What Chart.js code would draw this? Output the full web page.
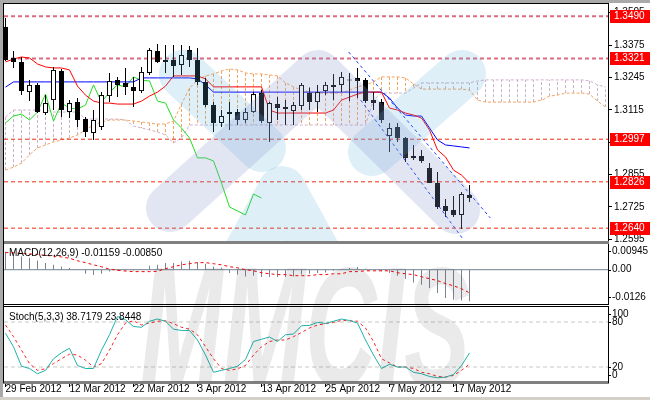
<!DOCTYPE html>
<html><head><meta charset="utf-8">
<script src="https://cdn.jsdelivr.net/npm/chart.js@4.4.1/dist/chart.umd.min.js"></script>
<style>
html,body{margin:0;padding:0;background:#fff;}
#wrap{position:relative;width:650px;height:400px;overflow:hidden;background:#fff;}
#wrap canvas{position:absolute;left:0;z-index:1;}
#wm{z-index:2 !important;pointer-events:none;}
.fr{position:absolute;z-index:3;}
</style></head><body>
<div id="wrap">
<canvas id="cMain" width="650" height="245" style="top:0"></canvas>
<canvas id="cMacd" width="650" height="60" style="top:244px"></canvas>
<canvas id="cStoch" width="650" height="93" style="top:307px"></canvas>
<canvas id="wm" width="650" height="400" style="top:0"></canvas>
<div class="fr" style="left:0;top:0;width:650px;height:3px;background:#a9a9a9"></div>
<div class="fr" style="left:0;top:0;width:3px;height:400px;background:#a9a9a9"></div>
<div class="fr" style="left:3px;top:3px;width:606px;height:1px;background:#000"></div>
<div class="fr" style="left:3px;top:3px;width:1px;height:380px;background:#000"></div>
<div class="fr" style="left:4px;top:241px;width:605px;height:3px;background:#808080"></div>
<div class="fr" style="left:4px;top:304px;width:605px;height:1px;background:#000"></div>
<div class="fr" style="left:4px;top:306px;width:605px;height:1px;background:#000"></div>
<div class="fr" style="left:0;top:397px;width:650px;height:3px;background:#d4d0c8"></div>
</div>
<script>
// ---------- DATA ----------
const opens = [1.3447,1.3323,1.3307,1.3186,1.3215,1.3102,1.3154,1.3271,1.3106,1.3146,
1.3078,1.3022,1.3046,1.3170,1.3235,1.3223,1.3207,1.3190,1.3263,1.3351,
1.3315,1.3315,1.3295,1.3355,1.3315,1.3227,1.3134,1.3062,1.3106,1.3106,
1.3074,1.3106,1.3182,1.3062,1.3138,1.3126,1.3110,1.3130,1.3182,1.3146,
1.3190,1.3215,1.3215,1.3235,1.3243,1.3235,1.3154,1.3146,1.3010,1.3046,
1.3002,1.2930,1.2930,1.2881,1.2821,1.2729,1.2713,1.2693,1.2773];
const highs = [1.3483,1.3351,1.3327,1.3235,1.3223,1.3174,1.3287,1.3279,1.3154,1.3162,
1.3086,1.3114,1.3186,1.3263,1.3247,1.3283,1.3247,1.3287,1.3363,1.3379,
1.3375,1.3375,1.3375,1.3371,1.3363,1.3243,1.3146,1.3114,1.3146,1.3118,
1.3122,1.3186,1.3194,1.3146,1.3166,1.3154,1.3146,1.3223,1.3205,1.3215,
1.3227,1.3259,1.3267,1.3263,1.3283,1.3243,1.3186,1.3158,1.3062,1.3062,
1.3006,1.2974,1.2954,1.2902,1.2865,1.2757,1.2769,1.2785,1.2813];
const lows = [1.3311,1.3283,1.3174,1.3150,1.3102,1.3094,1.3114,1.3086,1.3082,1.3046,
1.3006,1.2994,1.3034,1.3146,1.3166,1.3174,1.3126,1.3182,1.3255,1.3303,
1.3263,1.3247,1.3255,1.3287,1.3215,1.3126,1.3026,1.3046,1.3034,1.3054,
1.3062,1.3102,1.3062,1.2986,1.3074,1.3054,1.3054,1.3114,1.3114,1.3106,
1.3174,1.3154,1.3186,1.3150,1.3162,1.3142,1.3114,1.3062,1.2946,1.2986,
1.2906,1.2914,1.2902,1.2821,1.2717,1.2685,1.2685,1.2637,1.2745];
const closes = [1.3315,1.3307,1.3190,1.3215,1.3106,1.3142,1.3275,1.3114,1.3142,1.3074,
1.3026,1.3074,1.3174,1.3231,1.3215,1.3207,1.3190,1.3267,1.3355,1.3307,
1.3307,1.3291,1.3335,1.3315,1.3227,1.3134,1.3062,1.3090,1.3098,1.3074,
1.3106,1.3178,1.3070,1.3142,1.3122,1.3118,1.3134,1.3215,1.3146,1.3186,
1.3215,1.3207,1.3247,1.3233,1.3231,1.3150,1.3142,1.3074,1.3042,1.3002,
1.2922,1.2922,1.2910,1.2821,1.2725,1.2709,1.2693,1.2777,1.2761];
const tenkan = [1.3307,1.3319,1.3327,1.3323,1.3299,1.3287,1.3283,1.3283,1.3275,1.3210,
1.3174,1.3150,1.3142,1.3142,1.3138,1.3138,1.3138,1.3150,1.3170,1.3186,
1.3210,1.3251,1.3251,1.3251,1.3251,1.3239,1.3207,1.3207,1.3207,1.3207,
1.3207,1.3207,1.3207,1.3114,1.3102,1.3102,1.3102,1.3102,1.3102,1.3102,
1.3102,1.3114,1.3154,1.3166,1.3178,1.3186,1.3186,1.3186,1.3122,1.3114,
1.3102,1.3094,1.3082,1.3034,1.2954,1.2926,1.2873,1.2853,1.2821];
const kijun = [1.3206,1.3227,1.3227,1.3227,1.3227,1.3227,1.3227,1.3227,1.3227,1.3227,
1.3227,1.3227,1.3227,1.3227,1.3227,1.3227,1.3227,1.3243,1.3243,1.3243,
1.3243,1.3243,1.3243,1.3243,1.3239,1.3215,1.3186,1.3186,1.3186,1.3186,
1.3186,1.3186,1.3186,1.3186,1.3186,1.3186,1.3186,1.3186,1.3186,1.3186,
1.3186,1.3186,1.3186,1.3186,1.3186,1.3186,1.3186,1.3186,1.3162,1.3122,
1.3094,1.3090,1.3090,1.3042,1.2994,1.2974,1.2970,1.2966,1.2962];
const spanA = [1.2873,1.2885,1.2901,1.2934,1.2962,1.2974,1.2986,1.2994,1.3002,1.3014,
1.3034,1.3054,1.3066,1.3074,1.3074,1.3074,1.3070,1.3066,1.3062,1.3058,
1.3058,1.3070,1.3138,1.3202,1.3235,1.3251,1.3259,1.3271,1.3279,1.3275,
1.3263,1.3259,1.3259,1.3255,1.3251,1.3223,1.3207,1.3194,1.3186,1.3182,
1.3182,1.3182,1.3182,1.3194,1.3207,1.3215,1.3227,1.3247,1.3247,1.3247,
1.3243,1.3219,1.3198,1.3198,1.3198,1.3198,1.3198,1.3198,1.3194,1.3154,
1.3146,1.3146,1.3146,1.3146,1.3146,1.3146,1.3146,1.3154,1.3170,1.3174,
1.3182,1.3182,1.3182,1.3178,1.3150,1.3126];
const spanB = [1.3086,1.3114,1.3114,1.3114,1.3114,1.3114,1.3106,1.3106,1.3106,1.3106,
1.3078,1.3078,1.3078,1.3078,1.3078,1.3074,1.3050,1.3042,1.3034,1.3026,
1.3014,1.2982,1.3002,1.3054,1.3054,1.3054,1.3054,1.3054,1.3054,1.3054,
1.3054,1.3054,1.3054,1.3054,1.3054,1.3054,1.3054,1.3054,1.3054,1.3054,
1.3054,1.3054,1.3054,1.3054,1.3054,1.3054,1.3154,1.3182,1.3182,1.3182,
1.3182,1.3202,1.3223,1.3223,1.3223,1.3223,1.3223,1.3223,1.3223,1.3231,
1.3235,1.3235,1.3235,1.3235,1.3235,1.3235,1.3235,1.3235,1.3235,1.3235,
1.3235,1.3235,1.3235,1.3231,1.3215,1.3207];
const chinkouShift = 26;
const levels = [1.3490,1.3321,1.2997,1.2826,1.2640];
const priceTicks = [1.2595,1.2725,1.2855,1.2985,1.3115,1.3245,1.3375,1.3505];
const trendUpper = [[42.9,1.3347],[60.6,1.2681]];
const trendLower = [[44.4,1.3154],[57.1,1.2600]];
const macdHist = [0.0066,0.0055,0.0049,0.0043,0.0034,0.0025,0.0018,0.0012,0.0006,0.0002,
-0.0015,-0.0019,-0.0015,-0.0007,-0.0004,-0.0004,-0.0003,0.0001,0.0015,0.0018,
0.0025,0.0025,0.0030,0.0033,0.0027,0.0022,0.0012,0.0007,-0.0012,-0.0018,
-0.0025,-0.0022,-0.0027,-0.0027,-0.0027,-0.0027,-0.0025,-0.0018,-0.0015,-0.0012,
-0.0010,-0.0004,0.0002,0.0006,0.0010,0.0004,0.0000,-0.0006,-0.0012,-0.0022,
-0.0034,-0.0047,-0.0055,-0.0067,-0.0086,-0.0104,-0.0110,-0.0113,-0.01159];
const macdSignal = [0.0063,0.0062,0.0060,0.0058,0.0056,0.0053,0.0050,0.0047,0.0042,0.0033,
0.0026,0.0018,0.0011,0.0002,-0.0002,-0.0005,-0.0007,-0.0007,-0.0007,-0.0006,
0.0004,0.0011,0.0018,0.0022,0.0026,0.0026,0.0022,0.0018,0.0011,0.0007,
0.0000,-0.0004,-0.0011,-0.0015,-0.0018,-0.0018,-0.0022,-0.0022,-0.0022,-0.0018,
-0.0018,-0.0015,-0.0015,-0.0007,-0.0007,-0.0004,-0.0004,-0.0004,-0.0004,-0.0011,
-0.0015,-0.0018,-0.0026,-0.0033,-0.0040,-0.0051,-0.0059,-0.0070,-0.00850];
const macdTicks = [0.00945,0,-0.0126];
const macdTickLabels = ['0.00945','0.00','-0.0126'];
const stochK = [65,47,21,18,11,15.5,31,39,45,22,
18,18,42.5,63,87.5,83,74,73,81,84,
81,70.5,68.7,68.7,56,36,13,15.5,18,21,
30,54,57,60,54,63,64,75,75.5,79.5,
78,81,84,82,78.6,56,36,18,23.6,20,
20,13,11,7.4,5.6,6.5,10,22,38.7179];
const stochD = [76,60.5,42.5,24.6,15.5,17.6,24.6,31,37,36,
29,20,24.6,42.5,63,78.6,81.7,76,78.6,81,
81.7,77.7,73,70.5,63,47,31,18,15.5,17.6,
22,36,47,54,56,56,60.5,66,72,76,
77.7,79.5,82,81.7,81,72,54,31,25.4,20,
20,18,13,11,7.4,6.5,8.8,15.5,23.8448];
const stochLevels = [80,20];
const stochTicks = [100,80,20,0];
const dateIdx = [0,8,16,24,32,40,48,56];
const dateLabels = ['29 Feb 2012','12 Mar 2012','22 Mar 2012','3 Apr 2012','13 Apr 2012','25 Apr 2012','7 May 2012','17 May 2012'];

// ---------- SETUP ----------
const FAM = "'Liberation Sans',Arial,sans-serif";
const FONT = "10px " + FAM;
Chart.defaults.font.family = FAM;
Chart.defaults.font.size = 10;
Chart.defaults.color = '#000';
Chart.defaults.animation = false;
const xMin = -0.1875, xMax = xMin + 75.5;
const pts = arr => arr.map((v,i)=>({x:i,y:v}));
const hline = v => [{x:xMin,y:v},{x:xMax,y:v}];

function hiddenX(){ return {type:'linear', min:xMin, max:xMax, offset:false, display:false}; }
function rightY(min,max,extra){
  return Object.assign({position:'right', min, max,
    afterFit(s){ s.width = 42; s.paddingTop = 0; s.paddingBottom = 0; },
    grid:{drawOnChartArea:false, display:false},
    border:{display:true, color:'#000', width:1},
    ticks:{display:false}}, extra||{});
}
const sideLabels = {
  id:'sideLabels',
  afterDraw(chart, args, o){
    if(!o || !o.values) return;
    const c = chart.ctx, a = chart.chartArea, s = chart.scales.y;
    c.save(); c.font = FONT; c.fillStyle = '#000'; c.textBaseline = 'middle'; c.textAlign = 'left';
    o.values.forEach((v,k)=>{
      const y = Math.min(Math.max(s.getPixelForValue(v), a.top+7), a.bottom-7);
      c.fillRect(a.right, Math.round(y), 3, 1);
      c.fillText(o.labels[k], a.right+4, y);
    });
    if(o.title){ c.fillText(o.title, 9, a.top + o.titleY); }
    c.restore();
  }
};
const levelBoxes = {
  id:'levelBoxes',
  afterDraw(chart){
    const c = chart.ctx, a = chart.chartArea, s = chart.scales.y;
    c.save(); c.font = FONT; c.textBaseline = 'middle'; c.textAlign = 'left';
    levels.forEach(v=>{
      const y = Math.round(s.getPixelForValue(v));
      c.fillStyle = '#ff0000'; c.fillRect(a.right+2, y-6, 42, 13);
      c.fillStyle = '#ffffff'; c.fillText(v.toFixed(4), a.right+6, y+0.5);
    });
    c.restore();
  }
};

// hatch segments for cloud
const hatchOrange = [], hatchThistle = [];
spanA.forEach((a,i)=>{
  const tgt = a >= spanB[i] ? hatchOrange : hatchThistle;
  tgt.push({x:i,y:a},{x:i,y:spanB[i]},{x:i,y:null});
});
const idx = opens.map((_,i)=>i);
const common = {responsive:false, maintainAspectRatio:false, events:[],
  plugins:{legend:{display:false}, tooltip:{enabled:false}},
  elements:{point:{radius:0}, line:{borderWidth:1, tension:0, fill:false}}};

// ---------- MAIN ----------
const levelColors = ['#dc6a80','#dc6a80','#ee2a10','#ee2a10','#ee2a10'];
const levelWidths = [2,2,1,1,1];
new Chart(document.getElementById('cMain'), {
  type:'bar',
  data:{datasets:[
    {type:'bar', data: idx.map(i=>({x:i,y:[opens[i],closes[i]]})), grouped:false, barThickness:5, minBarLength:1,
      borderWidth:1, borderColor:'#000', borderSkipped:false, inflateAmount:0,
      backgroundColor: ctx => closes[ctx.dataIndex] >= opens[ctx.dataIndex] ? '#ffffff' : '#000000', order:0},
    {type:'bar', data: idx.map(i=>({x:i,y:[lows[i],highs[i]]})), grouped:false, barThickness:1, minBarLength:1,
      borderWidth:0, backgroundColor:'#000', inflateAmount:0, order:1},
    {type:'line', data: trendUpper.map(p=>({x:p[0],y:p[1]})), borderColor:'#1a3cff', borderDash:[3,3], order:2},
    {type:'line', data: trendLower.map(p=>({x:p[0],y:p[1]})), borderColor:'#1a3cff', borderDash:[3,3], order:2},
    {type:'line', data: pts(tenkan), borderColor:'#ff0000', order:3},
    {type:'line', data: pts(kijun), borderColor:'#0000ff', order:3},
    {type:'line', data: closes.slice(chinkouShift).map((v,i)=>({x:i,y:v})), borderColor:'#22dd22', order:3},
    ...levels.map((v,k)=>({type:'line', data:hline(v), borderColor:levelColors[k], borderWidth:levelWidths[k], borderDash:[4,3], order:4})),
    {type:'line', data: pts(spanA), borderColor:'#f4a460', borderDash:[3,2], order:5},
    {type:'line', data: pts(spanB), borderColor:'#ccb0cc', borderDash:[3,2], order:5},
    {type:'line', data: hatchOrange, borderColor:'#f4a460', borderDash:[3,2], spanGaps:false, order:6},
    {type:'line', data: hatchThistle, borderColor:'#ccb0cc', borderDash:[3,2], spanGaps:false, order:6}
  ]},
  options: Object.assign({}, common, {
    layout:{padding:{left:4, top:4, right:0, bottom:4}},
    scales:{
      x: hiddenX(),
      y: rightY(1.25885, 1.35396, {
        grid:{drawOnChartArea:false, display:true, drawTicks:true, tickLength:4, color:'#000', tickColor:'#000'},
        afterBuildTicks(s){ s.ticks = priceTicks.map(v=>({value:v})); },
        ticks:{display:true, autoSkip:false, padding:2, font:{size:10}, callback:v=>Number(v).toFixed(4)}
      })
    }
  }),
  plugins:[levelBoxes]
});

// ---------- MACD ----------
new Chart(document.getElementById('cMacd'), {
  type:'bar',
  data:{datasets:[
    {type:'line', data: pts(macdSignal), borderColor:'#ff0000', borderDash:[3,3], order:0},
    {type:'bar', data: pts(macdHist), grouped:false, barThickness:1, backgroundColor:'#7a8496', inflateAmount:0, order:1},
    {type:'line', data: hline(0), borderColor:'#708090', order:2}
  ]},
  options: Object.assign({}, common, {
    layout:{padding:{left:4, top:0, right:0, bottom:0}},
    scales:{ x: hiddenX(), y: rightY(-0.0126, 0.00945) },
    plugins:{legend:{display:false}, tooltip:{enabled:false},
      sideLabels:{values:macdTicks, labels:macdTickLabels,
        title:'MACD(12,26,9) ' + macdHist[macdHist.length-1].toFixed(5) + ' ' + macdSignal[macdSignal.length-1].toFixed(5), titleY:9}}
  }),
  plugins:[sideLabels]
});

// ---------- STOCH ----------
new Chart(document.getElementById('cStoch'), {
  type:'line',
  data:{datasets:[
    {data: pts(stochK), borderColor:'#20b2aa', order:0},
    {data: pts(stochD), borderColor:'#ff2020', borderDash:[3,3], order:1},
    ...stochLevels.map(v=>({data:hline(v), borderColor:'#c8c8c0', borderDash:[4,3], order:2}))
  ]},
  options: Object.assign({}, common, {
    layout:{padding:{left:4, top:0, right:0, bottom:0}},
    scales:{
      x:{type:'linear', min:xMin, max:xMax, offset:false, position:'bottom',
        afterFit(s){ s.height = 18; s.paddingLeft = 0; s.paddingRight = 0; },
        afterBuildTicks(s){ s.ticks = dateIdx.map(v=>({value:v})); },
        grid:{drawOnChartArea:false, display:true, drawTicks:true, tickLength:5, color:'#000', tickColor:'#000'},
        border:{display:true, color:'#808080', width:3},
        ticks:{autoSkip:false, maxRotation:0, align:'start', padding:-4, font:{size:10}, callback:(v,k)=>dateLabels[k]}},
      y: rightY(0, 100)
    },
    plugins:{legend:{display:false}, tooltip:{enabled:false},
      sideLabels:{values:stochTicks, labels:stochTicks.map(String),
        title:'Stoch(5,3,3) ' + stochK[stochK.length-1].toFixed(4) + ' ' + stochD[stochD.length-1].toFixed(4), titleY:10}}
  }),
  plugins:[sideLabels]
});

// ---------- WATERMARK (decoration) ----------
(function(){
  const c = document.getElementById('wm').getContext('2d');
  c.save(); c.beginPath(); c.rect(4,4,604,237); c.clip();
  c.lineCap = 'round'; c.lineJoin = 'round'; c.lineWidth = 48;
  c.strokeStyle = 'rgba(88,175,222,0.2)';
  c.beginPath(); c.moveTo(183,74); c.lineTo(262,148); c.stroke();
  c.beginPath(); c.moveTo(462,74); c.lineTo(372,152); c.stroke();
  c.beginPath(); c.moveTo(238,270); c.lineTo(282,190); c.lineTo(326,270); c.stroke();
  c.strokeStyle = 'rgba(138,155,207,0.25)';
  c.beginPath(); c.moveTo(170,208); c.lineTo(318,74); c.lineTo(456,210); c.stroke();
  c.restore();
  c.save(); c.beginPath(); c.rect(4,244,604,138); c.clip();
  c.fillStyle = 'rgba(60,60,60,0.11)';
  c.font = "italic bold 170px 'Liberation Sans'";
  const w = c.measureText('MMCIS').width;
  c.translate(140, 386); c.scale(330/w, 1); c.fillText('MMCIS', 0, 0);
  c.restore();
})();
</script>
</body></html>
